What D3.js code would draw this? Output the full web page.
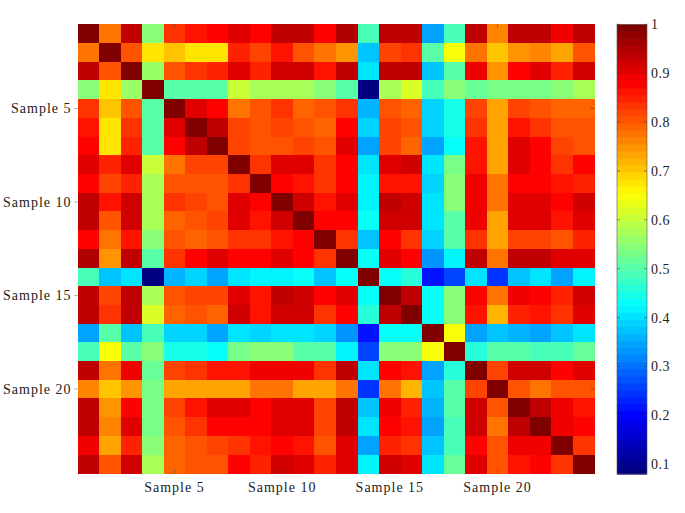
<!DOCTYPE html>
<html>
<head>
<meta charset="utf-8">
<script src="https://cdn.jsdelivr.net/npm/d3@7"></script>
<style>
  html, body { margin: 0; padding: 0; background: #fff; }
  svg text { font-family: "Liberation Serif", "Times New Roman", serif; fill: #222; }
</style>
</head>
<body>
<svg id="chart" width="685" height="513"></svg>
<script>
// ---- data ----
const samples = d3.range(1, 25).map(i => "Sample " + i);
const tickSamples = ["Sample 5", "Sample 10", "Sample 15", "Sample 20"];
const colorTicks = [0.1, 0.2, 0.3, 0.4, 0.5, 0.6, 0.7, 0.8, 0.9, 1];
const colorMin = 0.08;
const colorMax = 1;

const row1  = [1, .77, .93, .54, .83, .87, .88, .90, .88, .93, .93, .88, .95, .49, .93, .93, .35, .49, .93, .76, .93, .93, .89, .93];
const row2  = [.77, 1, .80, .68, .70, .68, .68, .85, .82, .87, .81, .77, .75, .37, .82, .84, .50, .65, .77, .71, .75, .76, .74, .80];
const row3  = [.93, .80, 1, .56, .81, .84, .85, .90, .85, .92, .92, .87, .93, .41, .93, .93, .38, .50, .89, .75, .88, .91, .85, .92];
const row4  = [.54, .68, .56, 1, .50, .50, .50, .60, .57, .57, .57, .55, .50, .08, .57, .62, .49, .55, .52, .53, .53, .53, .55, .57];
const row5  = [.83, .70, .81, .50, 1, .90, .88, .78, .80, .84, .79, .80, .84, .36, .81, .79, .39, .44, .82, .73, .82, .81, .79, .79];
const row6  = [.87, .68, .84, .50, .90, 1, .94, .82, .81, .82, .81, .79, .88, .39, .82, .80, .39, .44, .84, .73, .87, .83, .80, .80];
const row7  = [.88, .68, .85, .50, .88, .94, 1, .82, .81, .81, .82, .80, .90, .35, .82, .79, .34, .43, .86, .73, .91, .88, .82, .81];
const row8  = [.90, .85, .90, .60, .78, .82, .82, 1, .83, .90, .91, .84, .88, .41, .90, .92, .41, .53, .86, .73, .90, .88, .84, .88];
const row9  = [.88, .82, .85, .57, .80, .81, .81, .83, 1, .88, .87, .83, .88, .42, .86, .86, .39, .54, .89, .77, .88, .88, .87, .85];
const row10 = [.93, .87, .92, .57, .84, .82, .81, .90, .88, 1, .92, .87, .90, .42, .93, .92, .41, .54, .89, .77, .91, .90, .88, .92];
const row11 = [.93, .81, .92, .57, .79, .81, .82, .91, .87, .92, 1, .88, .88, .43, .92, .92, .40, .50, .89, .74, .90, .90, .87, .90];
const row12 = [.88, .77, .87, .55, .80, .79, .80, .84, .83, .87, .88, 1, .83, .38, .88, .84, .39, .50, .83, .73, .82, .82, .81, .85];
const row13 = [.95, .75, .93, .50, .84, .88, .90, .88, .88, .90, .88, .83, 1, .43, .90, .88, .33, .42, .94, .78, .93, .94, .91, .90];
const row14 = [.49, .37, .41, .08, .36, .39, .35, .41, .42, .42, .43, .38, .43, 1, .43, .46, .22, .26, .41, .24, .38, .40, .35, .42];
const row15 = [.93, .82, .93, .57, .81, .82, .82, .90, .86, .93, .92, .88, .90, .43, 1, .94, .43, .55, .88, .78, .89, .88, .85, .92];
const row16 = [.93, .84, .93, .62, .79, .80, .79, .92, .86, .92, .92, .84, .88, .46, .94, 1, .43, .55, .87, .72, .85, .86, .84, .90];
const row17 = [.35, .50, .38, .49, .39, .39, .34, .41, .39, .41, .40, .39, .33, .22, .43, .43, 1, .65, .35, .38, .36, .35, .37, .40];
const row18 = [.49, .65, .50, .55, .44, .44, .43, .53, .54, .54, .50, .50, .42, .26, .55, .55, .65, 1, .46, .50, .50, .49, .49, .52];
const row19 = [.93, .77, .89, .52, .82, .84, .86, .86, .89, .89, .89, .83, .94, .41, .88, .87, .35, .46, 1, .82, .92, .92, .88, .91];
const row20 = [.76, .71, .75, .53, .73, .73, .73, .73, .77, .77, .74, .73, .78, .24, .78, .72, .38, .50, .82, 1, .81, .78, .81, .80];
const row21 = [.93, .75, .88, .53, .82, .87, .91, .90, .88, .91, .90, .82, .93, .38, .89, .85, .36, .50, .92, .81, 1, .93, .89, .87];
const row22 = [.93, .76, .91, .53, .81, .83, .88, .88, .88, .90, .90, .82, .94, .40, .88, .86, .35, .49, .92, .78, .93, 1, .89, .88];
const row23 = [.89, .74, .85, .55, .79, .80, .82, .84, .87, .88, .87, .81, .91, .35, .85, .84, .37, .49, .88, .81, .89, .89, 1, .83];
const row24 = [.93, .80, .92, .57, .79, .80, .81, .88, .85, .92, .90, .85, .90, .42, .92, .90, .40, .52, .91, .80, .87, .88, .83, 1];

const matrix = [row1, row2, row3, row4, row5, row6, row7, row8, row9, row10, row11, row12,
                row13, row14, row15, row16, row17, row18, row19, row20, row21, row22, row23, row24];

// ---- jet colormap (64 levels, like MATLAB) ----
const NLEV = 64;
function jetRGB(t) {
  const c = v => Math.max(0, Math.min(1, v));
  const r = c(1.5 - Math.abs(4 * t - 3));
  const g = c(1.5 - Math.abs(4 * t - 2));
  const b = c(1.5 - Math.abs(4 * t - 1));
  return d3.rgb(r * 255, g * 255, b * 255).formatHex();
}
const levelColors = d3.range(NLEV).map(i => jetRGB(i / (NLEV - 1)));
const colorIndex = d3.scaleQuantize().domain([colorMin, colorMax]).range(d3.range(NLEV));
const color = v => levelColors[colorIndex(Math.max(colorMin, Math.min(colorMax, v)))];

// ---- layout ----
const svg = d3.select("#chart");
const plot = { left: 77.5, right: 594.5, top: 24.3, bottom: 473.3 };
const bar = { left: 617, right: 647, top: 24.3, bottom: 474 };

const x = d3.scaleBand().domain(samples).range([plot.left, plot.right]);
const y = d3.scaleBand().domain(samples).range([plot.top, plot.bottom]);

const cells = [];
matrix.forEach((row, i) => row.forEach((v, j) => cells.push({ r: samples[i], c: samples[j], v })));

svg.append("g").selectAll("rect").data(cells).join("rect")
  .attr("x", d => x(d.c))
  .attr("y", d => y(d.r))
  .attr("width", x.bandwidth() + 0.5)
  .attr("height", y.bandwidth() + 0.5)
  .attr("fill", d => color(d.v))
  .attr("shape-rendering", "crispEdges");

// axes
const xAxis = d3.axisBottom(x).tickValues(tickSamples).tickSize(0).tickPadding(9);
const gx = svg.append("g").attr("transform", `translate(0,${plot.bottom})`).call(xAxis);
const yAxis = d3.axisLeft(y).tickValues(tickSamples).tickSize(0).tickPadding(6);
const gy = svg.append("g").attr("transform", `translate(${plot.left},0)`).call(yAxis);
[gx, gy].forEach(g => {
  g.select(".domain").remove();
  g.selectAll("text").attr("font-size", 14).style("letter-spacing", "1px")
    .attr("font-family", "Liberation Serif, Times New Roman, serif").attr("fill", "#222");
});

// small inward ticks (faint, like the reference)
const tickG = svg.append("g").attr("stroke", "#333").attr("stroke-opacity", 0.45).attr("stroke-width", 1);
tickSamples.forEach(s => {
  const cx = x(s) + x.bandwidth() / 2, cy = y(s) + y.bandwidth() / 2;
  tickG.append("line").attr("x1", cx).attr("x2", cx).attr("y1", plot.bottom).attr("y2", plot.bottom - 4);
  tickG.append("line").attr("x1", cx).attr("x2", cx).attr("y1", plot.top).attr("y2", plot.top + 4);
  tickG.append("line").attr("x1", plot.left - 3).attr("x2", plot.left).attr("y1", cy).attr("y2", cy);
  tickG.append("line").attr("x1", plot.right).attr("x2", plot.right - 4).attr("y1", cy).attr("y2", cy);
});

// ---- colorbar ----
const cy = d3.scaleLinear().domain([colorMin, colorMax]).range([bar.bottom, bar.top]);
const levelSpan = (colorMax - colorMin) / NLEV;
svg.append("g").selectAll("rect").data(d3.range(NLEV)).join("rect")
  .attr("x", bar.left)
  .attr("width", bar.right - bar.left)
  .attr("y", i => cy(colorMin + (i + 1) * levelSpan))
  .attr("height", i => cy(colorMin + i * levelSpan) - cy(colorMin + (i + 1) * levelSpan) + 0.6)
  .attr("fill", i => levelColors[i]);
svg.append("rect")
  .attr("x", bar.left).attr("y", bar.top)
  .attr("width", bar.right - bar.left).attr("height", bar.bottom - bar.top)
  .attr("fill", "none").attr("stroke", "#555").attr("stroke-width", 0.6);

const cAxis = d3.axisRight(cy).tickValues(colorTicks).tickSize(0).tickPadding(4)
  .tickFormat(d => d === 1 ? "1" : d3.format(".1f")(d));
const gc = svg.append("g").attr("transform", `translate(${bar.right},0)`).call(cAxis);
gc.select(".domain").remove();
gc.selectAll("text").attr("font-size", 14).style("letter-spacing", "0.5px")
  .attr("font-family", "Liberation Serif, Times New Roman, serif").attr("fill", "#222");
const ctk = svg.append("g").attr("stroke", "#333").attr("stroke-opacity", 0.5);
colorTicks.forEach(t => {
  ctk.append("line").attr("x1", bar.right - 3).attr("x2", bar.right).attr("y1", cy(t)).attr("y2", cy(t));
  ctk.append("line").attr("x1", bar.left).attr("x2", bar.left + 3).attr("y1", cy(t)).attr("y2", cy(t));
});
</script>
</body>
</html>
